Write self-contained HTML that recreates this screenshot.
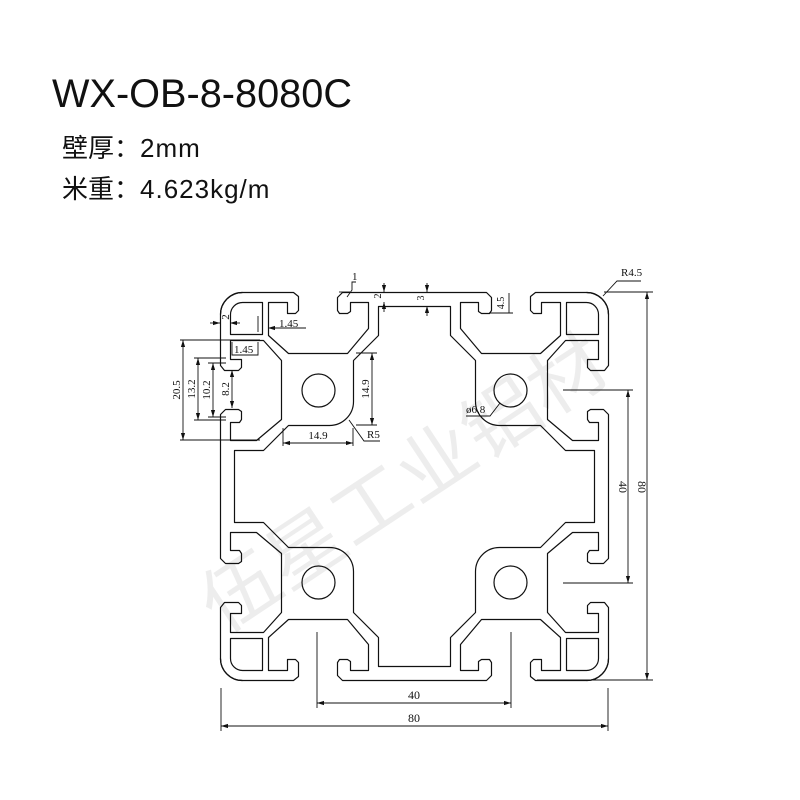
<!DOCTYPE html>
<html><head><meta charset="utf-8"><style>
html,body{margin:0;padding:0;background:#fff;}
svg{display:block;}
</style></head><body>
<svg width="800" height="800" viewBox="0 0 800 800" xmlns="http://www.w3.org/2000/svg">
<defs>
<marker id="ar" viewBox="0 0 10 10" refX="10" refY="5" markerWidth="7" markerHeight="7" orient="auto-start-reverse" markerUnits="userSpaceOnUse">
<path d="M0,2 L10,5 L0,8 Z" fill="#111"/>
</marker>
<g id="oct">
<path d="M-194,-172 A22,22 0 0 1 -172,-194 L-121,-194 L-116,-190 L-116,-176 L-119,-173 L-127,-173 L-127,-184 L-146,-184 L-146,-151 L-126,-133 L-67,-133 L-46,-158 L-46,-184 L-64,-184 L-64,-175 L-67,-173 L-75,-173 L-77,-176 L-77,-189 L-72,-194 L0,-194"/>
</g>
<g id="quad">
<use href="#oct"/>
<use href="#oct" transform="matrix(0 1 1 0 0 0)"/>
<path d="M0,-180 L-36,-180 L-36,-151 L-61,-126 L-61,-85 A24,24 0 0 1 -85,-61 L-126,-61 L-151,-36 L-180,-36 L-180,0"/>
<path d="M-184,-152 L-184,-172 A12,12 0 0 1 -172,-184 L-152,-184 L-152,-152 Z"/>
<circle cx="-96" cy="-96" r="16.5"/>
</g>
</defs>

<!-- watermark -->
<text x="0" y="0" transform="translate(418,505) rotate(-33.5)" text-anchor="middle" font-family="'Noto Sans CJK SC','WenQuanYi Zen Hei',sans-serif" font-size="74" fill="#000" fill-opacity="0.07" textLength="470" lengthAdjust="spacingAndGlyphs">伍星工业铝材</text>

<!-- header -->
<text x="52" y="107" font-family="'Liberation Sans',sans-serif" font-size="40" fill="#111" textLength="300" lengthAdjust="spacingAndGlyphs">WX-OB-8-8080C</text>
<text x="62" y="157" font-family="'Liberation Sans','Noto Sans CJK SC',sans-serif" font-size="26" fill="#111">壁厚：<tspan letter-spacing="1">2mm</tspan></text>
<text x="62" y="198" font-family="'Liberation Sans','Noto Sans CJK SC',sans-serif" font-size="26" fill="#111">米重：<tspan letter-spacing="1">4.623kg/m</tspan></text>

<!-- profile -->
<g fill="none" stroke="#111" stroke-width="1.2" stroke-linejoin="round">
<g transform="translate(414.5,486.5)">
<use href="#quad"/>
<use href="#quad" transform="scale(-1,1)"/>
<use href="#quad" transform="scale(1,-1)"/>
<use href="#quad" transform="scale(-1,-1)"/>
</g>
</g>

<!-- dimensions -->
<g fill="none" stroke="#111" stroke-width="0.9">
<line x1="317" y1="632" x2="317" y2="708"/>
<line x1="511" y1="632" x2="511" y2="708"/>
<line x1="317" y1="703" x2="511" y2="703" marker-start="url(#ar)" marker-end="url(#ar)"/>
<line x1="221" y1="688" x2="221" y2="731"/>
<line x1="608" y1="688" x2="608" y2="731"/>
<line x1="221" y1="726" x2="608" y2="726" marker-start="url(#ar)" marker-end="url(#ar)"/>
<line x1="563" y1="390" x2="633" y2="390"/>
<line x1="563" y1="583" x2="633" y2="583"/>
<line x1="628" y1="390" x2="628" y2="583" marker-start="url(#ar)" marker-end="url(#ar)"/>
<line x1="604" y1="292" x2="653" y2="292"/>
<line x1="537" y1="680" x2="653" y2="680"/>
<line x1="647" y1="292" x2="647" y2="680" marker-start="url(#ar)" marker-end="url(#ar)"/>
<polyline points="603,296 617,281 641,281"/>
<line x1="180" y1="340" x2="260" y2="340"/>
<line x1="180" y1="440" x2="260" y2="440"/>
<line x1="183" y1="340" x2="183" y2="440" marker-start="url(#ar)" marker-end="url(#ar)"/>
<line x1="194" y1="358" x2="226" y2="358"/>
<line x1="194" y1="420" x2="226" y2="420"/>
<line x1="198" y1="358" x2="198" y2="420" marker-start="url(#ar)" marker-end="url(#ar)"/>
<line x1="213" y1="363" x2="213" y2="417" marker-start="url(#ar)" marker-end="url(#ar)"/>
<line x1="232" y1="370" x2="232" y2="408" marker-start="url(#ar)" marker-end="url(#ar)"/>
<line x1="208" y1="363" x2="226" y2="363"/>
<line x1="208" y1="417" x2="226" y2="417"/>
<polyline points="232,342 232,355 258,355 258,342"/>
<line x1="210" y1="323" x2="220" y2="323" marker-end="url(#ar)"/>
<line x1="240" y1="323" x2="230" y2="323" marker-end="url(#ar)"/>
<line x1="258" y1="316" x2="258" y2="332"/>
<line x1="306" y1="328" x2="268" y2="328" marker-end="url(#ar)"/>
<line x1="283" y1="428" x2="283" y2="446"/>
<line x1="353" y1="428" x2="353" y2="446"/>
<line x1="283" y1="443" x2="353" y2="443" marker-start="url(#ar)" marker-end="url(#ar)"/>
<line x1="356" y1="353" x2="377" y2="353"/>
<line x1="356" y1="425" x2="377" y2="425"/>
<line x1="372" y1="353" x2="372" y2="425" marker-start="url(#ar)" marker-end="url(#ar)"/>
<polyline points="349,420 364,441 380,441"/>
<polyline points="347,297 352,290 352,282 356,282"/>
<line x1="339" y1="292" x2="350" y2="292"/>
<line x1="384" y1="283" x2="384" y2="292" marker-end="url(#ar)"/>
<line x1="384" y1="312" x2="384" y2="302" marker-end="url(#ar)"/>
<line x1="427" y1="283" x2="427" y2="292" marker-end="url(#ar)"/>
<line x1="427" y1="316" x2="427" y2="306" marker-end="url(#ar)"/>
<line x1="489" y1="313" x2="513" y2="313"/>
<line x1="509" y1="293" x2="509" y2="313"/>
<polyline points="500,403 490,416 466,416"/>
</g>

<g font-family="'Liberation Serif',serif" font-size="12" fill="#111">
<text x="414" y="699" text-anchor="middle">40</text>
<text x="414" y="722" text-anchor="middle">80</text>
<text transform="translate(619,487) rotate(90)" text-anchor="middle">40</text>
<text transform="translate(638,487) rotate(90)" text-anchor="middle">80</text>
<text x="621" y="276" font-size="11">R4.5</text>
<text transform="translate(180,390) rotate(-90)" text-anchor="middle" font-size="11">20.5</text>
<text transform="translate(195,389) rotate(-90)" text-anchor="middle" font-size="11">13.2</text>
<text transform="translate(210,390) rotate(-90)" text-anchor="middle" font-size="11">10.2</text>
<text transform="translate(229,389) rotate(-90)" text-anchor="middle" font-size="11">8.2</text>
<text x="234" y="353" font-size="11">1.45</text>
<text x="279" y="327" font-size="11">1.45</text>
<text transform="translate(229,317) rotate(-90)" text-anchor="middle" font-size="11">2</text>
<text x="318" y="439" text-anchor="middle" font-size="11">14.9</text>
<text transform="translate(369,389) rotate(-90)" text-anchor="middle" font-size="11">14.9</text>
<text x="367" y="438" font-size="11">R5</text>
<text x="352" y="280" font-size="11">1</text>
<text transform="translate(381,296) rotate(-90)" text-anchor="middle" font-size="10">2</text>
<text transform="translate(424,298) rotate(-90)" text-anchor="middle" font-size="10">3</text>
<text transform="translate(504,303) rotate(-90)" text-anchor="middle" font-size="10">4.5</text>
<text x="466" y="413" font-size="11">ø6.8</text>
</g>
</svg>
</body></html>
